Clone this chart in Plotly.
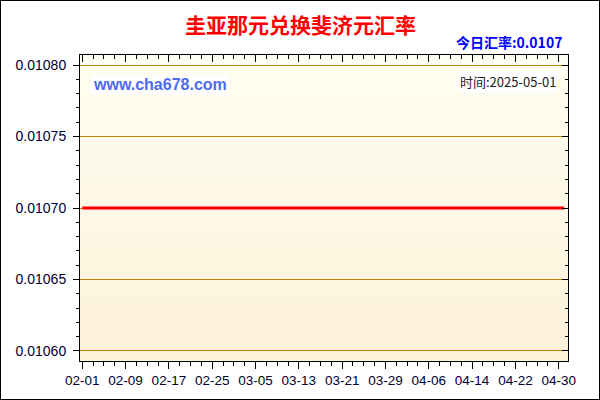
import pandas as pd
import plotly.express as px

# daily rate, GYD -> FJD
dates = pd.date_range("2025-02-01", "2025-05-01", freq="D")
rates = [0.0107] * len(dates)
title = "圭亚那元兑换斐济元汇率"
today_rate = "0.0107"
update_time = "2025-05-01"
site = "www.cha678.com"

df = pd.DataFrame({"date": dates, "rate": rates})

fig = px.line(df, x="date", y="rate", width=600, height=400)
fig.update_traces(line_color="#ff0000", line_width=3)

# plot area is 80..568 x 55..361 in a 600x400 page
ml, mr, mt, mb = 80, 32, 55, 39
pw, ph = 600 - ml - mr, 400 - mt - mb

fig.update_layout(
    font_family="Liberation Sans, Arial",
    font_color="#000033",
    font={"size": 13},
    plot_bgcolor="#fffef2",
    paper_bgcolor="#ffffff",
    margin=dict(l=ml, r=mr, t=mt, b=mb),
    showlegend=False,
)

xr = ["2025-01-31 14:00", "2025-05-01 17:00"]
yr = [0.010593, 0.010807]

fig.update_xaxes(
    range=xr,
    title_text=None,
    tickformat="%m-%d",
    tick0="2025-02-01",
    dtick=8 * 86400000,
    ticks="outside",
    ticklen=7,
    tickcolor="#000000",
    showline=True,
    linecolor="#000000",
    linewidth=1,
    showgrid=False,
    zeroline=False,
    tickfont={"size": 13.5, "color": "#000033"},
    minor=dict(dtick=2 * 86400000, tick0="2025-02-01", ticks="outside", ticklen=4, tickcolor="#000000"),
)
fig.update_yaxes(
    range=yr,
    title_text=None,
    tickformat=".5f",
    tick0=0.0106,
    dtick=0.00005,
    ticks="outside",
    ticklen=6,
    tickcolor="#000000",
    ticklabelstandoff=4,
    showline=True,
    linecolor="#000000",
    linewidth=1,
    showgrid=True,
    gridcolor="#b8860b",
    gridwidth=1,
    zeroline=False,
    tickfont={"size": 14, "color": "#000033"},
    minor=dict(dtick=0.00001, ticks="outside", ticklen=3, tickcolor="#000000"),
)

# top / right frame with ticks pointing into the plot
fig.update_layout(
    xaxis2=dict(
        overlaying="x", side="top", range=xr, type="date", showticklabels=False,
        tick0="2025-02-01", dtick=8 * 86400000, ticks="inside", ticklen=7, tickcolor="#000000",
        showline=True, linecolor="#000000", linewidth=1, showgrid=False, zeroline=False,
        minor=dict(dtick=2 * 86400000, tick0="2025-02-01", ticks="inside", ticklen=4, tickcolor="#000000"),
    ),
    yaxis2=dict(
        overlaying="y", side="right", range=yr, showticklabels=False,
        tick0=0.0106, dtick=0.00005, ticks="inside", ticklen=6, tickcolor="#000000",
        showline=True, linecolor="#000000", linewidth=1, showgrid=False, zeroline=False,
        minor=dict(dtick=0.00001, ticks="inside", ticklen=3, tickcolor="#000000"),
    ),
)
fig.add_scatter(x=[], y=[], xaxis="x2", yaxis="y2", showlegend=False)

# background gradient, cream at the top to light tan at the bottom
top, bot = (255, 254, 242), (253, 241, 216)
n = 40
for i in range(n):
    t = (i + 0.5) / n
    c = tuple(round(top[k] + (bot[k] - top[k]) * t) for k in range(3))
    fig.add_shape(type="rect", xref="paper", yref="paper", x0=0, x1=1,
                  y0=1 - (i + 1) / n, y1=1 - i / n, layer="below", line_width=0,
                  fillcolor="rgb(%d,%d,%d)" % c)

# page border
fig.add_shape(type="rect", xref="paper", yref="paper",
              x0=-ml / pw, x1=1 + mr / pw, y0=-mb / ph, y1=1 + mt / ph,
              line=dict(color="#000000", width=2), layer="above")

fig.add_annotation(text="<b>" + title + "</b>", xref="paper", yref="paper",
                   x=(300 - ml) / pw, y=1 + (mt - 24) / ph, xanchor="center", yanchor="middle",
                   showarrow=False, font=dict(family="Noto Sans CJK SC", size=21, color="#ff0000"))
fig.add_annotation(text="<b>今日汇率:" + today_rate + "</b>", xref="paper", yref="paper",
                   x=(564 - ml) / pw, y=1 + (mt - 42) / ph, xanchor="right", yanchor="middle",
                   showarrow=False, font=dict(family="Noto Sans CJK SC", size=14, color="#0000ff"))
fig.add_annotation(text="<b>" + site + "</b>", xref="paper", yref="paper",
                   x=(91 - ml) / pw, y=1 - (84 - mt) / ph, xanchor="left", yanchor="middle",
                   showarrow=False, bgcolor="#ffffff", borderpad=1,
                   font=dict(family="Liberation Sans, Arial", size=16, color="#4f6bed"))
fig.add_annotation(text="时间:" + update_time, xref="paper", yref="paper",
                   x=(558 - ml) / pw, y=1 - (81 - mt) / ph, xanchor="right", yanchor="middle",
                   showarrow=False, bgcolor="#ffffff", borderpad=1,
                   font=dict(family="Noto Sans CJK SC", size=13, color="#222222"))

# no body margin so the 600x400 figure fills the window
fig.write_html("out.html", config={"displayModeBar": False},
               post_script="document.body.style.margin='0';")
